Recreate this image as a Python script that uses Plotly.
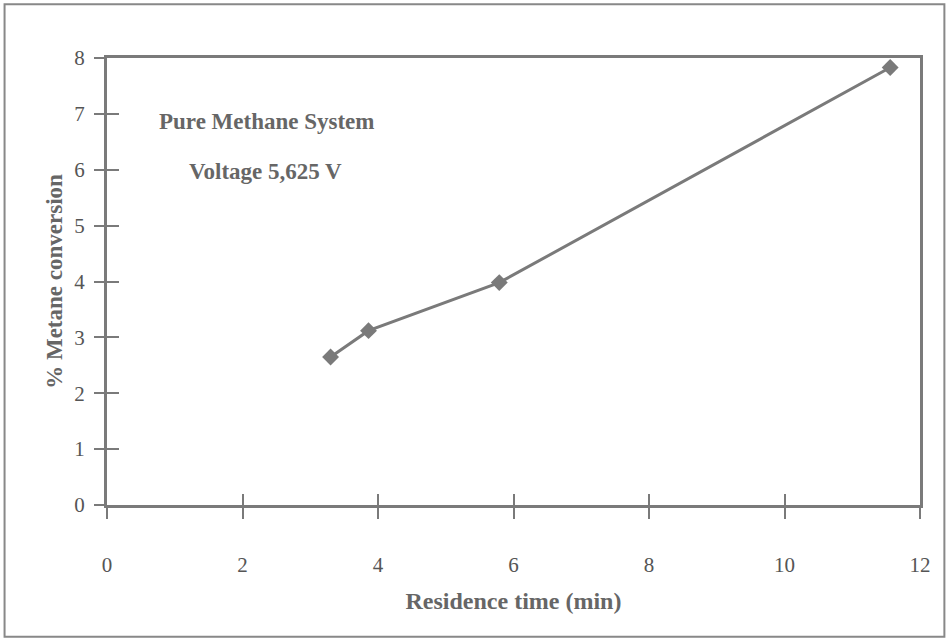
import plotly.graph_objects as go

residence_time = [3.30, 3.86, 5.79, 11.56]
conversion = [2.65, 3.12, 3.98, 7.83]
x_ticks = [0, 2, 4, 6, 8, 10, 12]
y_ticks = [0, 1, 2, 3, 4, 5, 6, 7, 8]

GRAY = "#7a7a7a"
TXT = "#555555"
FONT = "Liberation Serif"
TICKFONT = dict(family=FONT, size=21, color=TXT)

fig = go.Figure()
fig.add_trace(go.Scatter(
    x=residence_time, y=conversion, mode="lines+markers",
    line=dict(color=GRAY, width=3),
    marker=dict(symbol="diamond", size=13, color=GRAY),
    showlegend=False,
))
fig.add_trace(go.Scatter(x=[0, 12], y=[0, 8], xaxis="x2", yaxis="y2",
                         mode="markers", marker=dict(opacity=0),
                         showlegend=False, hoverinfo="skip"))
fig.add_trace(go.Scatter(x=[0, 12], y=[0, 8], xaxis="x3", yaxis="y3",
                         mode="markers", marker=dict(opacity=0),
                         showlegend=False, hoverinfo="skip"))

fig.update_layout(
    width=946, height=639,
    margin=dict(l=107, r=26, t=58, b=134),
    paper_bgcolor="white", plot_bgcolor="white",
    font=dict(family=FONT, color=TXT, size=20),
    xaxis=dict(range=[0, 12], tickvals=x_ticks, showgrid=False, zeroline=False,
               showline=True, linecolor=GRAY, linewidth=3,
               ticks="outside", ticklen=11, tickwidth=2, tickcolor=GRAY,
               ticklabelstandoff=28, tickfont=TICKFONT,
               title=dict(text="<b>Residence time (min)</b>", standoff=16,
                          font=dict(size=24, family=FONT, color="#666"))),
    yaxis=dict(range=[0, 8], tickvals=y_ticks, showgrid=False, zeroline=False,
               showline=True, linecolor=GRAY, linewidth=3,
               ticks="outside", ticklen=10, tickwidth=2, tickcolor=GRAY,
               ticklabelstandoff=5, tickfont=TICKFONT,
               title=dict(text="<b>% Metane conversion</b>", standoff=6,
                          font=dict(size=23, family=FONT, color="#666"))),
    xaxis2=dict(range=[0, 12], tickvals=x_ticks, overlaying="x", side="top",
                showticklabels=False, showgrid=False, zeroline=False,
                showline=True, linecolor=GRAY, linewidth=3,
                ticks="", anchor="y2"),
    yaxis2=dict(range=[0, 8], tickvals=y_ticks, overlaying="y", side="right",
                showticklabels=False, showgrid=False, zeroline=False,
                showline=True, linecolor=GRAY, linewidth=3,
                ticks="", anchor="x2"),
    xaxis3=dict(range=[0, 12], tickvals=x_ticks, overlaying="x", side="bottom",
                showticklabels=False, showgrid=False, zeroline=False,
                showline=False, ticks="inside", ticklen=11, tickwidth=2,
                tickcolor=GRAY, anchor="y3"),
    yaxis3=dict(range=[0, 8], tickvals=y_ticks, overlaying="y", side="left",
                showticklabels=False, showgrid=False, zeroline=False,
                showline=False, ticks="inside", ticklen=12, tickwidth=2,
                tickcolor=GRAY, anchor="x3"),
)

fig.add_annotation(x=0.0615, y=0.857, xref="paper", yref="paper",
                   text="<b>Pure Methane System</b>", showarrow=False,
                   xanchor="left", yanchor="middle",
                   font=dict(size=23, family=FONT, color="#666"))
fig.add_annotation(x=0.098, y=0.745, xref="paper", yref="paper",
                   text="<b>Voltage 5,625 V</b>", showarrow=False,
                   xanchor="left", yanchor="middle",
                   font=dict(size=23, family=FONT, color="#666"))

fig.add_shape(type="rect", xref="paper", yref="paper",
              x0=-0.126, x1=1.03, y0=-0.295, y1=1.12,
              line=dict(color="#888", width=2), layer="below")

fig.write_html("out.html")
